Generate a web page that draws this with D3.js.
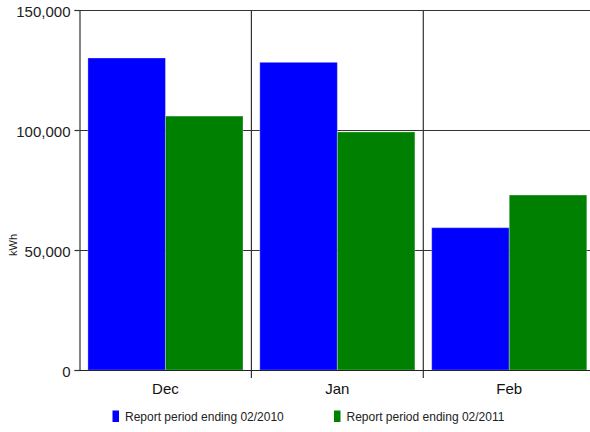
<!DOCTYPE html>
<html>
<head>
<meta charset="utf-8">
<script src="https://cdn.jsdelivr.net/npm/d3@7"></script>
<style>
html,body{margin:0;padding:0;background:#fff;overflow:hidden;}
svg{display:block;font-family:"Liberation Sans",Arial,sans-serif;}
</style>
</head>
<body>
<svg id="chart" width="590" height="432"></svg>
<script>
const categories = ["Dec", "Jan", "Feb"];
const seriesNames = ["Report period ending 02/2010", "Report period ending 02/2011"];
const series2010 = [130000, 128200, 59300];
const series2011 = [105800, 99200, 72900];
const yTicks = [0, 50000, 100000, 150000];
const colors = ["#0000ff", "#008000"];

(function () {
const svg = d3.select("#chart");
const plotLeft = 79.5, plotTop = 10, plotBottom = 370, step = 171.9;
const plotRight = plotLeft + step * categories.length;

const y = d3.scaleLinear().domain([0, 150000]).range([plotBottom, plotTop]);
const x0 = d3.scaleBand().domain(categories).range([plotLeft, plotRight]).padding(0);
const x1 = d3.scaleBand().domain(seriesNames).range([8.4, step - 8.4]).padding(0);

const data = categories.map((c, i) => ({cat: c, vals: [series2010[i], series2011[i]]}));

// horizontal gridlines (non-zero)
svg.append("g").selectAll("line").data(yTicks.filter(t => t > 0)).join("line")
  .attr("x1", plotLeft).attr("x2", 590)
  .attr("y1", d => Math.round(y(d)) + 0.5).attr("y2", d => Math.round(y(d)) + 0.5)
  .attr("stroke", "#333").attr("stroke-width", 1.2);

// bars
const g = svg.append("g").selectAll("g").data(data).join("g")
  .attr("transform", d => `translate(${x0(d.cat)},0)`);
g.selectAll("rect").data(d => d.vals.map((v, i) => ({v, i}))).join("rect")
  .attr("x", d => x1(seriesNames[d.i]))
  .attr("width", x1.bandwidth())
  .attr("y", d => y(d.v))
  .attr("height", d => plotBottom - y(d.v))
  .attr("fill", d => colors[d.i])
  .attr("stroke", "#fff").attr("stroke-opacity", 0.3).attr("stroke-width", 1);

// vertical separators between categories
svg.append("g").selectAll("line").data(categories.slice(1)).join("line")
  .attr("x1", d => x0(d)).attr("x2", d => x0(d))
  .attr("y1", plotTop).attr("y2", plotBottom + 8)
  .attr("stroke", "#333").attr("stroke-width", 1.2);

// y axis
const yAxis = d3.axisLeft(y).tickValues(yTicks).tickSize(5).tickPadding(4)
  .tickFormat(d3.format(","));
const ya = svg.append("g").attr("transform", `translate(${plotLeft},0)`).call(yAxis);
ya.select(".domain").attr("stroke", "#333").attr("stroke-width", 1.2);
ya.selectAll(".tick line").attr("stroke", "#333").attr("stroke-width", 1.2);
ya.selectAll(".tick text").attr("font-size", 15).attr("fill", "#222")
  .attr("font-family", "Liberation Sans, Arial, sans-serif").attr("dy", "0.65em")
  .attr("y", -3);

// x axis baseline
svg.append("line").attr("x1", plotLeft).attr("x2", 590)
  .attr("y1", plotBottom + 0.5).attr("y2", plotBottom + 0.5)
  .attr("stroke", "#222").attr("stroke-width", 1.2);

// category labels
const xAxis = d3.axisBottom(x0).tickSize(0).tickPadding(0);
const xa = svg.append("g").attr("transform", `translate(0,${plotBottom})`).call(xAxis);
xa.select(".domain").remove();
xa.selectAll(".tick text").attr("font-size", 15).attr("fill", "#111")
  .attr("font-family", "Liberation Sans, Arial, sans-serif")
  .attr("dy", null).attr("y", 24);

// y label
svg.append("text").attr("transform", "translate(17,245) rotate(-90)")
  .attr("text-anchor", "middle").attr("font-size", 11).attr("fill", "#222").text("kWh");

// legend
const legendX = [112.5, 334];
const lg = svg.append("g").selectAll("g").data(seriesNames).join("g")
  .attr("transform", (d, i) => `translate(${legendX[i]},0)`);
lg.append("rect").attr("x", 0).attr("y", 410.5).attr("width", 6.5).attr("height", 11.5)
  .attr("fill", (d, i) => colors[i]);
lg.append("text").attr("x", 12.5).attr("y", 420.5).attr("font-size", 12).attr("fill", "#222").text(d => d);
})();
</script>
</body>
</html>
